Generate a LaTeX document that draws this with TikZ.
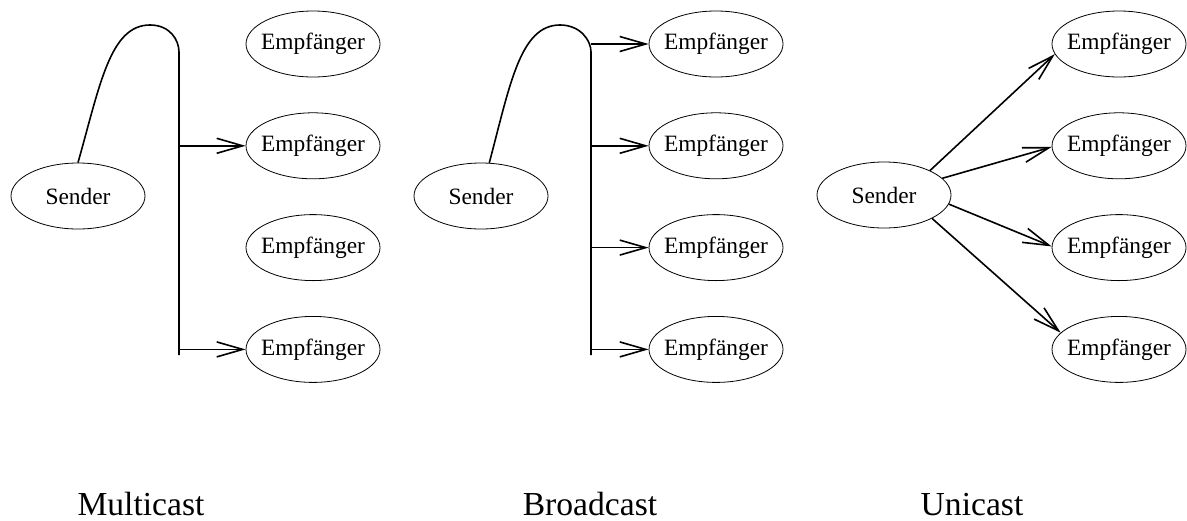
\documentclass[tikz,border=0pt]{standalone}
\usepackage{fontspec}
\setmainfont{Liberation Serif}
\usetikzlibrary{arrows.meta, positioning, shapes.geometric}

\begin{document}
\begin{tikzpicture}[x=0.5pt, y=-0.5pt, node distance=17.5pt,
    rechner/.style={ellipse, draw, line width=0.4pt, minimum width=67pt, minimum height=33pt, inner xsep=-3pt, inner ysep=0pt, font=\fontsize{11.7}{14}\selectfont},
    leitung/.style={line width=0.8pt},
    pfeil/.style={leitung, -{Straight Barb[length=13pt, width=7.5pt]}},
    titel/.style={anchor=base, font=\fontsize{16.8}{20}\selectfont}]

            \useasboundingbox (0,0) rectangle (1187,520);

            % Multicast
            \node[rechner] (MS) at (78,196) {Sender};
            \node[rechner] (M1) at (313,44) {Empfänger};
            \node[rechner] (M2) [below=of M1] {Empfänger};
            \node[rechner] (M3) [below=of M2] {Empfänger};
            \node[rechner] (M4) [below=of M3] {Empfänger};

            \coordinate (MT) at (179,52);
            \coordinate (MB) at (179,355);

            \draw[leitung] (MS.north) .. controls (100,85) and (110,25) .. (150,25)
                .. controls (170,25) and (179,40) .. (MT) -- (MB);

            \path[pfeil]
            (MT |- M2.west) edge (M2.west)
            (MT |- M4.west) edge (M4.west);

            % Broadcast
            \node[rechner] (BS) at (481,196) {Sender};
            \node[rechner] (B1) at (716,44) {Empfänger};
            \node[rechner] (B2) [below=of B1] {Empfänger};
            \node[rechner] (B3) [below=of B2] {Empfänger};
            \node[rechner] (B4) [below=of B3] {Empfänger};

            \coordinate (BT) at (591,52);
            \coordinate (BB) at (591,355);

            \draw[leitung] (BS.76) .. controls (510,85) and (520,25) .. (560,25)
                .. controls (580,25) and (591,40) .. (BT) -- (BB);

            \path[pfeil]
            (BT |- B1.west) edge (B1.west)
            (BT |- B2.west) edge (B2.west)
            (BT |- B3.west) edge (B3.west)
            (BT |- B4.west) edge (B4.west);

            % Unicast
            \node[rechner] (US) at (884,195) {Sender};
            \node[rechner] (U1) at (1119,44) {Empfänger};
            \node[rechner] (U2) [below=of U1] {Empfänger};
            \node[rechner] (U3) [below=of U2] {Empfänger};
            \node[rechner] (U4) [below=of U3] {Empfänger};

            \path[pfeil]
            (US.28) edge (U1.189)
            (US.16) edge (U2.181)
            (US.-8) edge (U3.179)
            (US.-26) edge (U4.164);

            % Beschriftung
            \node[titel] (ML) at (141,515) {Multicast};
            \node[titel] (BL) at (590,515) {Broadcast};
            \node[titel] (UL) at (972,515) {Unicast};

\end{tikzpicture}
\end{document}
